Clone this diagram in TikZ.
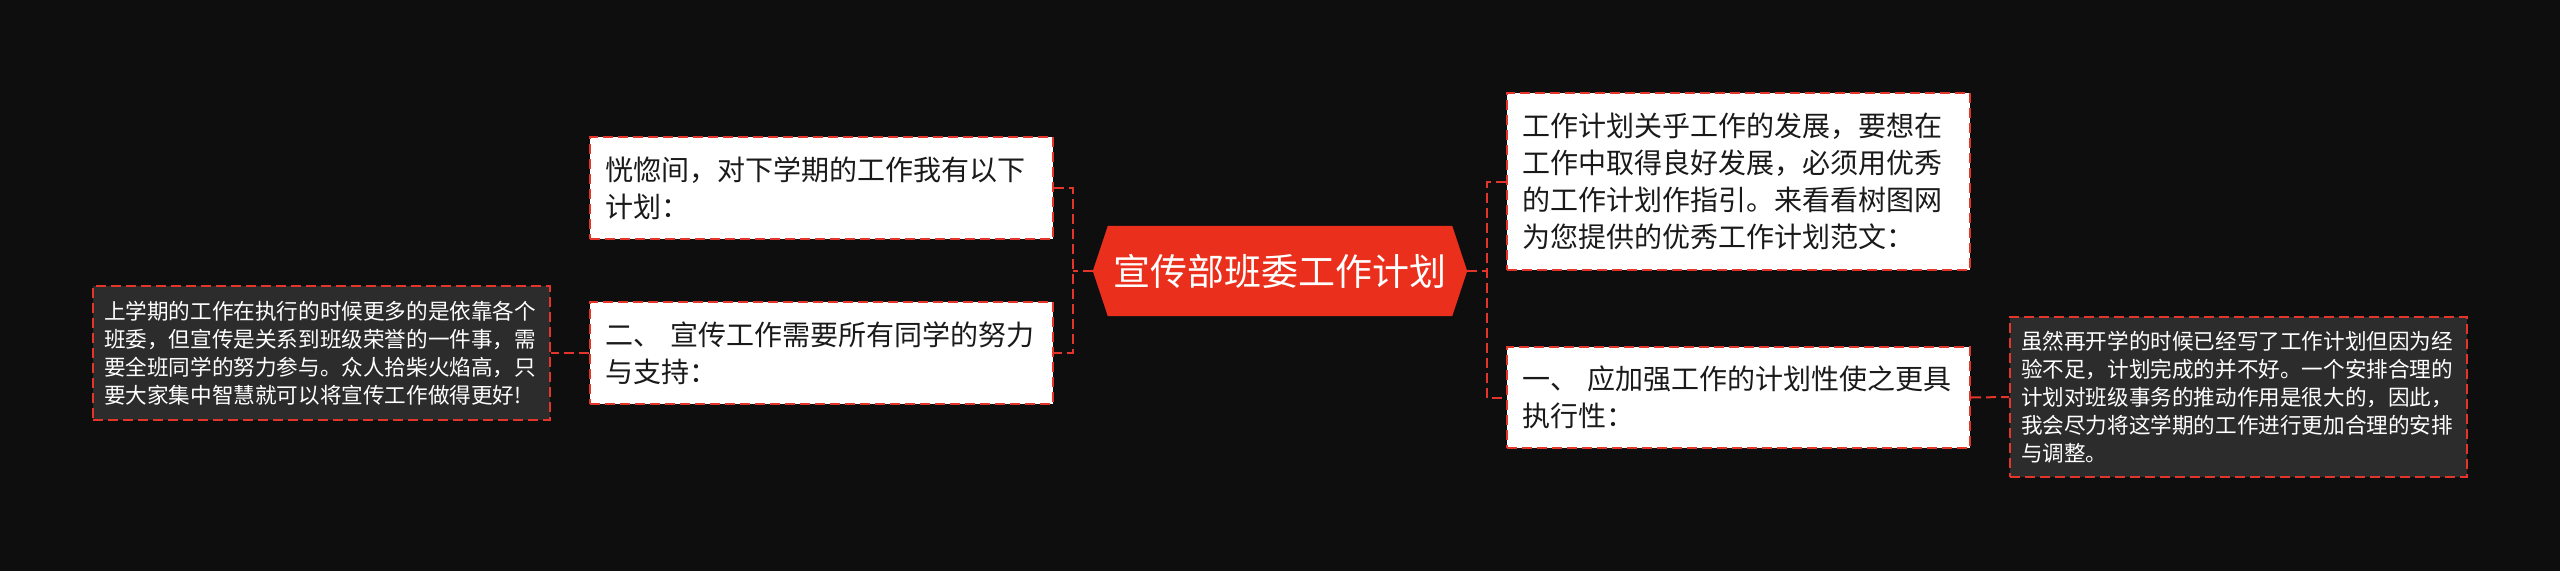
\documentclass[tikz,border=0pt]{standalone}
\usepackage{fontspec}
\setmainfont{Noto Sans CJK SC}
\definecolor{bg}{HTML}{0E0E0E}
\definecolor{myred}{HTML}{E3352A}
\definecolor{cfill}{HTML}{EA2F1D}
\definecolor{dbox}{HTML}{2C2C2C}
\definecolor{ink}{HTML}{1A1A1A}
\tikzset{
  dline/.style={draw=myred, line width=2pt, dash pattern=on 10pt off 5pt},
  mainbox/.style={dline, fill=white, text=ink, font=\fontsize{28}{37}\selectfont,
    align=left, inner xsep=15pt, inner ysep=0pt, text width=433pt, anchor=center},
  farbox/.style={dline, fill=dbox, text=white, font=\fontsize{21.6}{28}\selectfont,
    align=left, inner xsep=11pt, inner ysep=0pt, text width=435pt, anchor=center},
  conn/.style={dline}
}
\begin{document}
\begin{tikzpicture}[x=1pt,y=-1pt]
\fill[bg] (0,0) rectangle (2560,571);
\useasboundingbox (0,0) rectangle (2560,571);

% central node
\node[minimum width=374pt, minimum height=90pt, inner sep=0pt] (c) at (1280,271) {};
\fill[cfill] (c.west) -- ([xshift=15pt]c.north west) -- ([xshift=-15pt]c.north east)
  -- (c.east) -- ([xshift=-15pt]c.south east) -- ([xshift=15pt]c.south west) -- cycle;
\node[text=white, font=\fontsize{37}{40}\selectfont] at (c.center) {宣传部班委工作计划};

% left side
\node[mainbox, minimum height=102pt] (l1) at (821.5,188) {恍惚间，对下学期的工作我有以下\\计划：};
\node[mainbox, minimum height=102pt] (l2) at (821.5,353) {二、 宣传工作需要所有同学的努力\\与支持：};
\node[farbox, minimum height=134pt] (fl) at (321.5,353) {上学期的工作在执行的时候更多的是依靠各个\\班委，但宣传是关系到班级荣誉的一件事，需\\要全班同学的努力参与。众人拾柴火焰高，只\\要大家集中智慧就可以将宣传工作做得更好!};

% right side
\node[mainbox, minimum height=177pt] (r1) at (1738.5,181.5) {工作计划关乎工作的发展，要想在\\工作中取得良好发展，必须用优秀\\的工作计划作指引。来看看树图网\\为您提供的优秀工作计划范文：};
\node[mainbox, minimum height=101pt] (r2) at (1738.5,397.5) {一、 应加强工作的计划性使之更具\\执行性：};
\node[farbox, minimum height=160pt] (fr) at (2238.5,397) {虽然再开学的时候已经写了工作计划但因为经\\验不足，计划完成的并不好。一个安排合理的\\计划对班级事务的推动作用是很大的，因此，\\我会尽力将这学期的工作进行更加合理的安排\\与调整。};

% junction coordinates
\coordinate (jl) at (1073,271);
\coordinate (jr) at (1487,271);

% connectors
\draw[conn] (c.west) -- (jl);
\draw[conn] (l1.east) -- (l1.east -| jl) -- (l2.east -| jl) -- (l2.east);
\draw[conn] (c.east) -- (jr);
\draw[conn] (r1.west) -- (r1.west -| jr) -- (r2.west -| jr) -- (r2.west);
\draw[conn] (l2.west) -- (fl.east);
\draw[conn] (r2.east) -- (fr.west);
\end{tikzpicture}
\end{document}
